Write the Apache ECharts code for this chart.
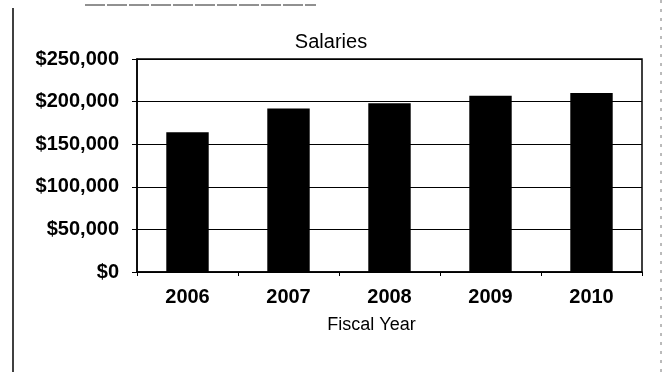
<!DOCTYPE html>
<html>
<head>
<meta charset="utf-8">
<script src="https://cdn.jsdelivr.net/npm/echarts@6/dist/echarts.min.js"></script>
<style>
  html, body { margin: 0; padding: 0; background: #fff; }
  #chart { width: 667px; height: 372px; }
</style>
</head>
<body>
<div id="chart"></div>
<script>
// Salaries by fiscal year
const fiscalYears = ['2006', '2007', '2008', '2009', '2010'];
const salaries = [164000, 192000, 198000, 207000, 210000];
const yTicks = [0, 50000, 100000, 150000, 200000, 250000];

const FONT = 'Liberation Sans, Arial, sans-serif';

function money(v) {
  return '$' + v.toLocaleString('en-US');
}

const chart = echarts.init(document.getElementById('chart'), null, { renderer: 'canvas' });

chart.setOption({
  animation: false,
  backgroundColor: '#ffffff',
  title: {
    text: 'Salaries',
    left: 326,
    top: 27,
    textAlign: 'center',
    textStyle: { fontFamily: FONT, fontSize: 20, fontWeight: 'normal', color: '#000' }
  },
  grid: {
    left: 137, right: 25, top: 59, bottom: 100,
    show: true, borderColor: '#000', borderWidth: 1.5, backgroundColor: 'transparent'
  },
  xAxis: {
    type: 'category',
    data: fiscalYears,
    boundaryGap: true,
    name: 'Fiscal Year',
    nameLocation: 'middle',
    nameGap: 44,
    nameTextStyle: { fontFamily: FONT, fontSize: 18, color: '#000', padding: [0, 36, 0, 0] },
    axisLine: { lineStyle: { color: '#000', width: 1.5 } },
    axisTick: { show: true, alignWithLabel: false, length: 4, lineStyle: { color: '#000' } },
    axisLabel: { margin: 15, fontFamily: FONT, fontSize: 20, fontWeight: 'bold', color: '#000' }
  },
  yAxis: {
    type: 'value',
    min: yTicks[0],
    max: yTicks[yTicks.length - 1],
    interval: yTicks[1] - yTicks[0],
    axisLine: { show: true, lineStyle: { color: '#000', width: 1.5 } },
    axisTick: { show: true, length: 5, lineStyle: { color: '#000' } },
    splitLine: { show: true, lineStyle: { color: '#000', width: 1 } },
    axisLabel: { margin: 18, fontFamily: FONT, fontSize: 20, fontWeight: 'bold', color: '#000', formatter: money }
  },
  series: [{
    type: 'bar',
    data: salaries,
    barWidth: '42%',
    itemStyle: { color: '#000' }
  }],
  graphic: [
    // outer chart frame
    { type: 'line', shape: { x1: 13, y1: 8, x2: 13, y2: 372 }, style: { stroke: '#000', lineWidth: 1.5 } },
    { type: 'line', shape: { x1: 85, y1: 5, x2: 316, y2: 5 }, style: { stroke: '#222', lineWidth: 1, lineDash: [20, 2] } },
    { type: 'line', shape: { x1: 661, y1: 0, x2: 661, y2: 372 }, style: { stroke: '#777', lineWidth: 1, lineDash: [3, 6] } }
  ]
});
</script>
</body>
</html>
